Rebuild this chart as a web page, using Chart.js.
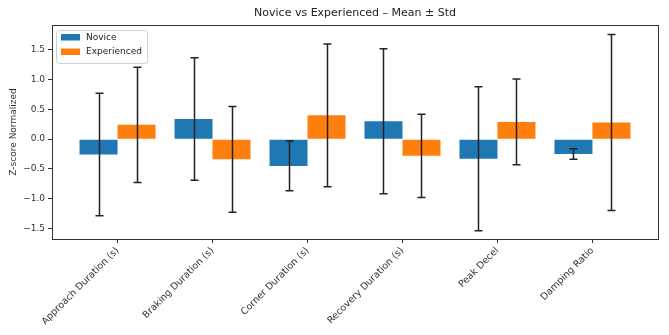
<!DOCTYPE html>
<html>
<head>
<meta charset="utf-8">
<script src="https://cdn.jsdelivr.net/npm/chart.js@4"></script>
<style>
  body { margin: 0; background: #fff; }
  #wrap { width: 669px; height: 335px; }
</style>
</head>
<body>
<div id="wrap"><canvas id="chart" width="669" height="335"></canvas></div>
<script>
// DATA
const categories = ["Approach Duration (s)", "Braking Duration (s)", "Corner Duration (s)", "Recovery Duration (s)", "Peak Decel", "Damping Ratio"];
const noviceMean = [-0.26, 0.34, -0.45, 0.30, -0.33, -0.25];
const noviceStd = [1.03, 1.03, 0.42, 1.22, 1.21, 0.09];
const expMean = [0.24, -0.34, 0.40, -0.28, 0.29, 0.28];
const expStd = [0.97, 0.89, 1.20, 0.70, 0.72, 1.48];
const yTicks = [-1.5, -1.0, -0.5, 0.0, 0.5, 1.0, 1.5];
const seriesNames = ["Novice", "Experienced"];
const colors = ["#1f77b4", "#ff7f0e"];

const FONT = "'DejaVu Sans', sans-serif";

function points(arr) {
  return arr.map((v, i) => ({ x: i, y: v }));
}

// ERROR BARS + FRAME + LEGEND
const extras = {
  id: "extras",
  afterDatasetsDraw(chart) {
    let ctx = chart.ctx;
    let ys = chart.scales.y;
    let stds = [noviceStd, expStd];
    let means = [noviceMean, expMean];
    ctx.save();
    ctx.strokeStyle = "#222";
    ctx.lineWidth = 1.5;
    for (let d = 0; d < 2; d++) {
      let meta = chart.getDatasetMeta(d);
      meta.data.forEach((bar, j) => {
        let x = Math.round(bar.x) + 0.5;
        let top = ys.getPixelForValue(means[d][j] + stds[d][j]);
        let bot = ys.getPixelForValue(means[d][j] - stds[d][j]);
        ctx.beginPath();
        ctx.moveTo(x, top); ctx.lineTo(x, bot);
        ctx.moveTo(x - 4, top); ctx.lineTo(x + 4, top);
        ctx.moveTo(x - 4, bot); ctx.lineTo(x + 4, bot);
        ctx.stroke();
      });
    }
    ctx.restore();
  },
  afterDraw(chart) {
    let ctx = chart.ctx;
    let a = chart.chartArea;
    ctx.save();
    // frame
    ctx.strokeStyle = "#333";
    ctx.lineWidth = 1;
    ctx.strokeRect(Math.round(a.left) + 0.5, Math.round(a.top) + 0.5, Math.round(a.right - a.left), Math.round(a.bottom - a.top));
    // legend
    let lx = a.left + 4, ly = a.top + 5;
    ctx.fillStyle = "rgba(255,255,255,0.8)";
    ctx.strokeStyle = "#d0d0d0";
    ctx.beginPath();
    ctx.roundRect(lx + 0.5, ly + 0.5, 91, 33, 3);
    ctx.fill();
    ctx.stroke();
    ctx.font = "9px " + FONT;
    ctx.textBaseline = "middle";
    seriesNames.forEach((name, i) => {
      let yy = ly + 4 + i * 14.5;
      ctx.fillStyle = colors[i];
      ctx.fillRect(lx + 5, yy, 19, 6.5);
      ctx.fillStyle = "#222";
      ctx.fillText(name, lx + 30, yy + 3.5);
    });
    ctx.restore();
  }
};

new Chart(document.getElementById("chart"), {
  type: "bar",
  data: {
    datasets: [
      { label: seriesNames[0], data: points(noviceMean), backgroundColor: colors[0] },
      { label: seriesNames[1], data: points(expMean), backgroundColor: colors[1] }
    ]
  },
  options: {
    responsive: false,
    animation: false,
    categoryPercentage: 0.8,
    barPercentage: 1.0,
    layout: { padding: { left: 0, right: 11, top: 0, bottom: 0 } },
    plugins: {
      legend: { display: false },
      tooltip: { enabled: false },
      title: {
        display: true,
        fullSize: false,
        text: "Novice vs Experienced – Mean ± Std",
        color: "#222",
        font: { family: FONT, size: 11, weight: "normal" },
        padding: { top: 7, bottom: 4.8 }
      }
    },
    scales: {
      x: {
        type: "linear",
        offset: false,
        min: -0.69,
        max: 5.69,
        afterBuildTicks: (s) => { s.ticks = categories.map((c, i) => ({ value: i })); },
        afterFit: (s) => { s.height = 96; },
        grid: { display: true, offset: false, drawOnChartArea: false, drawTicks: true, tickLength: 4, color: "#333" },
        border: { display: false },
        ticks: {
          autoSkip: false,
          maxRotation: 45,
          minRotation: 45,
          padding: 2,
          color: "#333",
          font: { family: FONT, size: 9.5 },
          callback: (v) => categories[v]
        }
      },
      y: {
        min: -1.68,
        max: 1.92,
        afterBuildTicks: (s) => { s.ticks = yTicks.map(v => ({ value: v })); },
        afterFit: (s) => { s.width = 52; },
        grid: { display: true, drawOnChartArea: false, drawTicks: true, tickLength: 4, color: "#333" },
        border: { display: false },
        title: {
          display: true,
          text: "Z-score Normalized",
          color: "#333",
          font: { family: FONT, size: 9 },
          padding: { top: 8, bottom: 0 }
        },
        ticks: {
          padding: 3,
          color: "#333",
          font: { family: FONT, size: 9 },
          callback: (v) => v.toFixed(1).replace("-", "\u2212")
        }
      }
    }
  },
  plugins: [extras]
});
</script>
</body>
</html>
